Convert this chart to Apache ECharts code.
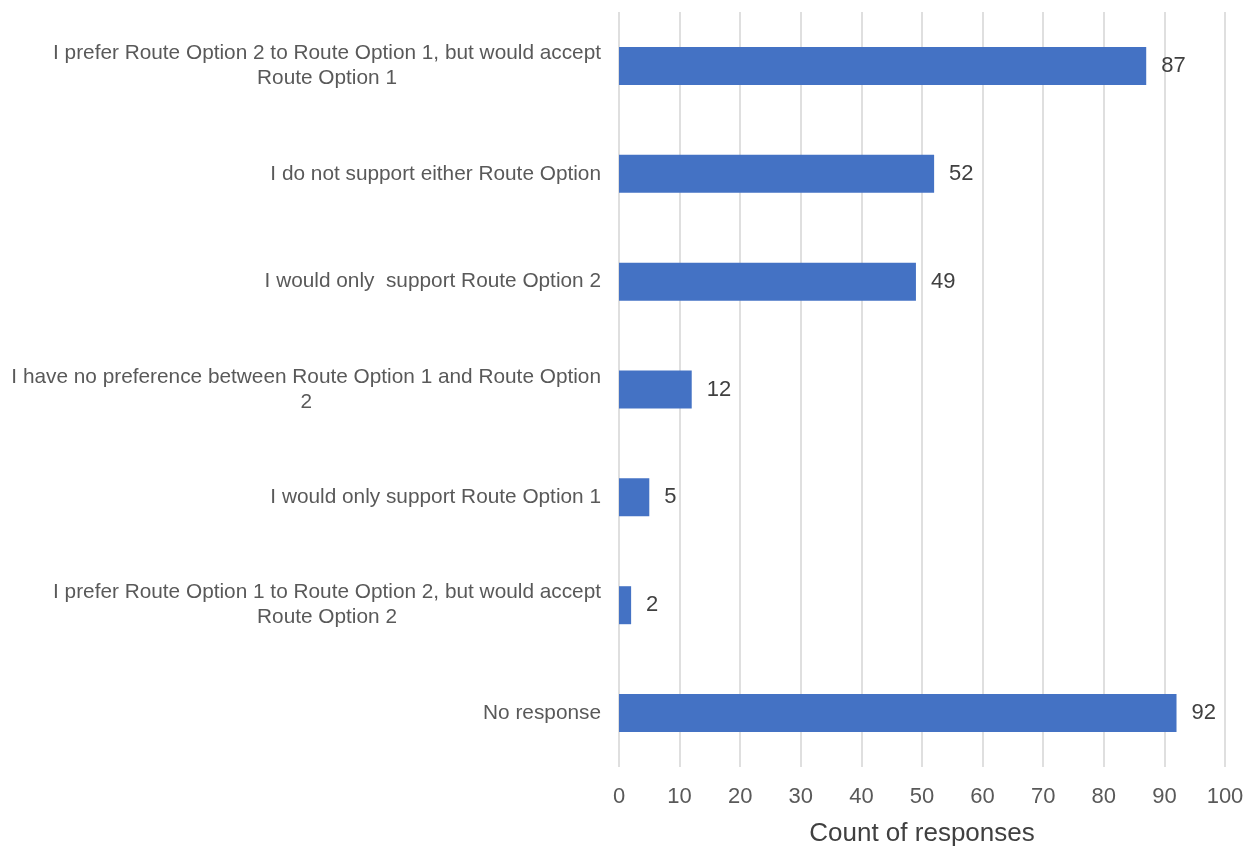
<!DOCTYPE html>
<html>
<head>
<meta charset="utf-8">
<script src="https://cdn.jsdelivr.net/npm/echarts@6/dist/echarts.min.js"></script>
<style>
html,body{margin:0;padding:0;background:#fff;}
#chart{width:1255px;height:846px;}
</style>
</head>
<body>
<div id="chart"></div>
<script>
var categories = [
  "I prefer Route Option 2 to Route Option 1, but would accept\nRoute Option 1",
  "I do not support either Route Option",
  "I would only  support Route Option 2",
  "I have no preference between Route Option 1 and Route Option\n2",
  "I would only support Route Option 1",
  "I prefer Route Option 1 to Route Option 2, but would accept\nRoute Option 2",
  "No response"
];
var counts = [87, 52, 49, 12, 5, 2, 92];
var axisMin = 0, axisMax = 100, axisStep = 10;
var xAxisTitle = "Count of responses";

var chart = echarts.init(document.getElementById('chart'), null, {renderer: 'canvas'});
chart.setOption({
  animation: false,
  backgroundColor: '#ffffff',
  grid: {left: 619, right: 30, top: 12, bottom: 79, containLabel: false, outerBoundsMode: 'none'},
  xAxis: {
    type: 'value',
    min: axisMin, max: axisMax, interval: axisStep,
    name: xAxisTitle,
    nameLocation: 'middle',
    nameGap: 54,
    nameTextStyle: {fontFamily: 'Liberation Sans', fontSize: 26, color: '#404040'},
    axisLine: {show: false},
    axisTick: {show: false},
    axisLabel: {fontFamily: 'Liberation Sans', fontSize: 22, color: '#595959', margin: 19},
    splitLine: {show: true, lineStyle: {color: '#d4d4d4', width: 1.5}}
  },
  yAxis: {
    type: 'category',
    data: categories,
    inverse: true,
    axisLine: {show: false},
    axisTick: {show: false},
    axisLabel: {
      margin: 18,
      align: 'right',
      formatter: function (v) { return '{c|' + v + '}'; },
      rich: {
        c: {align: 'center', fontFamily: 'Liberation Sans', fontSize: 20.8, color: '#595959', lineHeight: 25}
      }
    }
  },
  series: [{
    type: 'bar',
    data: counts,
    barWidth: 38,
    itemStyle: {color: '#4472C4'},
    label: {
      show: true, position: 'right', distance: 15,
      fontFamily: 'Liberation Sans', fontSize: 22, color: '#404040'
    }
  }]
});
</script>
</body>
</html>
